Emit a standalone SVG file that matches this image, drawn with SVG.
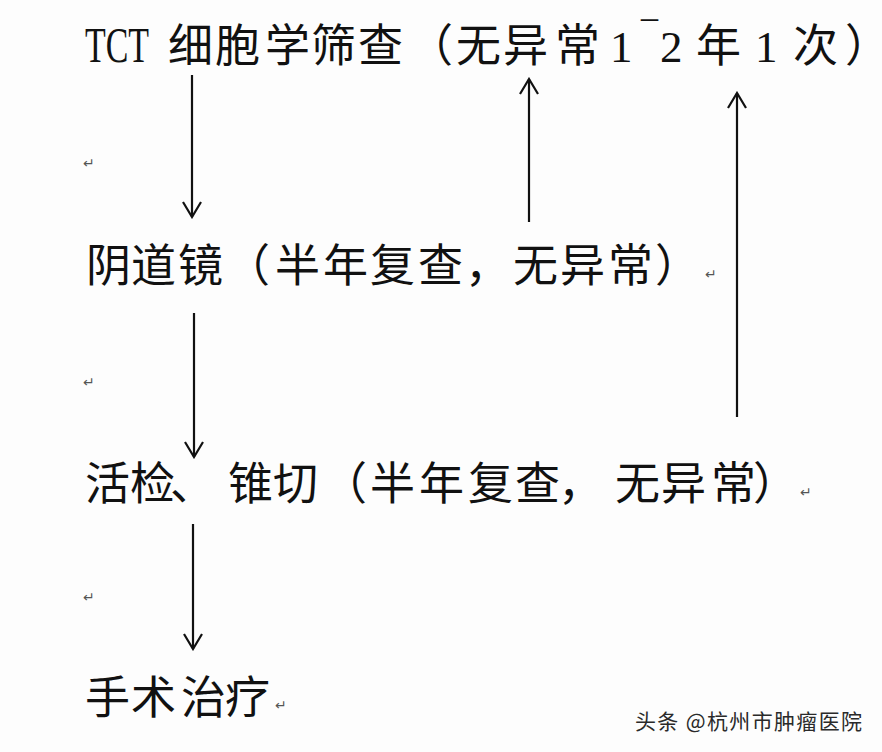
<svg xmlns="http://www.w3.org/2000/svg" width="882" height="752" viewBox="0 0 882 752">
  <defs>
    <style>
      .t { font-family: "Liberation Serif", "Noto Sans CJK SC", serif; font-size: 45px; fill: #111; }
      .half { font-feature-settings: "halt" 1; }
      .lat { font-family: "Liberation Serif", serif; font-size: 50px; fill: #111; }
      .ret { font-family: "DejaVu Sans", sans-serif; font-size: 14px; fill: #555; }
      .wm { font-family: "Noto Sans CJK SC", sans-serif; font-size: 21px; fill: #2a2a2a; }
      .arrow { stroke: #111; stroke-width: 2.2; fill: none; }
    </style>
    <marker id="head" viewBox="-17 -11 19 22" markerWidth="19" markerHeight="22" refX="0" refY="0" orient="auto" markerUnits="userSpaceOnUse">
      <path d="M-15,-9 L0,0 L-15,9" fill="none" stroke="#111" stroke-width="2.2"/>
    </marker>
  </defs>
  <rect width="882" height="752" fill="#fdfdfd"/>

  <g id="node-tct">
    <text class="lat" transform="translate(85,62) scale(0.678,1)" x="0" y="0">TCT</text>
    <text class="t" x="168 215 265 311 358 408 456 503 555" y="62">细胞学筛查（无异常</text>
    <text class="t" x="610 642 660" y="62 55 62">1‾2</text>
    <text class="t" x="696 755 793" y="62">年1次</text>
    <text class="t half" x="845" y="62">）</text>
  </g>

  <g id="node-colposcopy">
    <text class="t" x="86 131 178 225 275 323 370 418 465 513 560 608 655" y="282">阴道镜（半年复查，无异常）</text>
    <text class="ret" x="705" y="279">↵</text>
  </g>

  <g id="node-biopsy">
    <text class="t" x="85 130 170 228 273 322 370 419 468 515 558 615 661 711 753" y="500">活检、锥切（半年复查，无异常）</text>
    <text class="ret" x="800" y="497">↵</text>
  </g>

  <g id="node-surgery">
    <text class="t" x="85 131 181 225" y="714">手术治疗</text>
    <text class="ret" x="275" y="710">↵</text>
  </g>

  <g id="marks">
    <text class="ret" x="83" y="168">↵</text>
    <text class="ret" x="83" y="387">↵</text>
    <text class="ret" x="83" y="602">↵</text>
  </g>

  <g id="connectors">
    <line class="arrow" x1="192" y1="75" x2="192" y2="217" marker-end="url(#head)"/>
    <line class="arrow" x1="529" y1="222" x2="529" y2="79" marker-end="url(#head)"/>
    <line class="arrow" x1="737" y1="417" x2="737" y2="93" marker-end="url(#head)"/>
    <line class="arrow" x1="194" y1="313" x2="194" y2="457" marker-end="url(#head)"/>
    <line class="arrow" x1="193" y1="524" x2="193" y2="649" marker-end="url(#head)"/>
  </g>

  <g id="watermark">
    <text class="wm" x="635" y="729" textLength="227" lengthAdjust="spacing">头条 @杭州市肿瘤医院</text>
  </g>
</svg>
